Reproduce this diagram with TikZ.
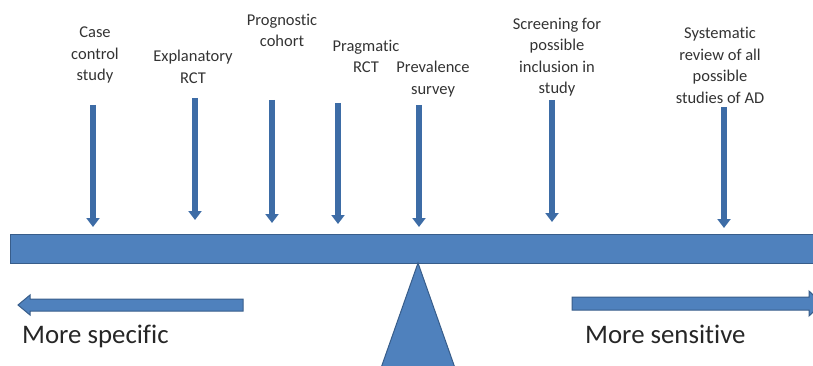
\documentclass[tikz,border=0pt]{standalone}
\usepackage{fontspec}
\setmainfont[Ligatures={NoCommon}]{Carlito}
\usetikzlibrary{arrows.meta}
\definecolor{shapefill}{HTML}{4F81BD}
\definecolor{shapeline}{HTML}{385D8A}
\definecolor{arrowblue}{HTML}{3D6CA6}
\tikzset{
  lbl/.style={align=center, inner sep=0pt, font=\fontsize{16.5}{21.5}\selectfont, text=black!80},
  biglbl/.style={anchor=base west, inner sep=0pt, font=\fontsize{26.8}{30}\selectfont, text=black!85},
  downarrow/.style={draw=arrowblue, line width=5.5pt, -{Triangle[width=13pt,length=9pt]}},
  blockshape/.style={fill=shapefill, draw=shapeline, line width=1pt, line join=miter}
}
\begin{document}
\begin{tikzpicture}[x=1pt,y=-1pt]
\useasboundingbox (0,0) rectangle (813,366);
% beam and fulcrum
\draw[blockshape] (10,234) rectangle (830,263);
\draw[blockshape] (418,263) -- (455,368) -- (381,368) -- cycle;
% block arrows
\draw[blockshape] (18,305) -- (30,295) -- (30,299) -- (243,299) -- (243,311) -- (30,311) -- (30,315) -- cycle;
\draw[blockshape] (572,297) -- (809,297) -- (809,291) -- (822,303.5) -- (809,316) -- (809,310) -- (572,310) -- cycle;
% labels
\node[lbl] (l1) at (95,55) {Case\\control\\study};
\node[lbl] (l2) at (193,67) {Explanatory\\RCT};
\node[lbl] (l3) at (282,30.5) {Prognostic\\cohort};
\node[lbl] (l4) at (366,56.5) {Pragmatic\\RCT};
\node[lbl] (l5) at (433,79) {Prevalence\\survey};
\node[lbl] (l6) at (557,57) {Screening for\\possible\\inclusion in\\study};
\node[lbl] (l7) at (720,65.5) {Systematic\\review of all\\possible\\studies of AD};
% arrow coordinates
\coordinate (s1) at (93,105);  \coordinate (t1) at (93,227);
\coordinate (s2) at (195,98);  \coordinate (t2) at (195,220);
\coordinate (s3) at (272,100); \coordinate (t3) at (272,223);
\coordinate (s4) at (338,103); \coordinate (t4) at (338,224);
\coordinate (s5) at (419,105); \coordinate (t5) at (419,227);
\coordinate (s6) at (552,100); \coordinate (t6) at (552,222);
\coordinate (s7) at (724,107); \coordinate (t7) at (724,228);
\foreach \i in {1,...,7} { \draw[downarrow] (s\i) -- (t\i); }
% bottom labels
\node[biglbl] (spec) at (22,343) {More specific};
\node[biglbl] (sens) at (585,343) {More sensitive};
\end{tikzpicture}
\end{document}
